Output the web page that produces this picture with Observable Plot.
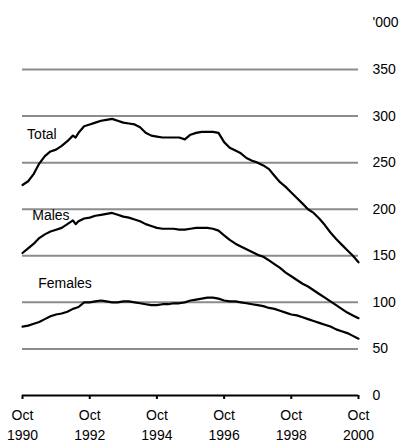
<!DOCTYPE html>
<html>
<head>
<meta charset="utf-8">
<script src="https://cdn.jsdelivr.net/npm/d3@7"></script>
<script src="https://cdn.jsdelivr.net/npm/@observablehq/plot@0.6"></script>
<style>
  html, body { margin: 0; padding: 0; background: white; }
</style>
</head>
<body>
<div id="chart"></div>
<script>
// Monthly readings (every other month) from Oct 1990 to Oct 2000, thousands
const months = ["1990-10","1990-12","1991-02","1991-04","1991-06","1991-08","1991-10","1991-12","1992-02","1992-04","1992-05","1992-06","1992-08","1992-10","1992-12","1993-02","1993-04","1993-06","1993-08","1993-10","1993-12","1994-02","1994-04","1994-06","1994-08","1994-10","1994-12","1995-02","1995-04","1995-06","1995-08","1995-10","1995-12","1996-02","1996-04","1996-06","1996-08","1996-10","1996-12","1997-02","1997-04","1997-06","1997-08","1997-10","1997-12","1998-02","1998-04","1998-06","1998-08","1998-10","1998-12","1999-02","1999-04","1999-06","1999-08","1999-10","1999-12","2000-02","2000-04","2000-06","2000-08","2000-10"];
const total = [226,230,238,249,257,262,264,268,273,279,277,282,289,291,293,295,296,297,295,293,292,291,288,282,279,278,277,277,277,277,275,280,282,283,283,283,282,272,266,263,260,255,252,250,247,243,236,229,224,218,212,206,200,196,190,183,175,168,162,156,150,143];
const males = [153,158,163,169,173,176,178,180,184,188,184,187,190,191,193,194,195,196,194,192,191,189,187,184,182,180,179,179,179,178,178,179,180,180,180,179,177,172,167,163,160,157,154,151,149,145,141,137,132,128,124,120,117,113,109,105,101,97,93,89,86,83];
const females = [74,75,77,79,82,85,87,88,90,93,94,95,100,100,101,102,101,100,100,101,101,100,99,98,97,97,98,98,99,99,100,102,103,104,105,105,104,102,101,101,100,99,98,97,96,94,93,91,89,87,86,84,82,80,78,76,74,71,69,67,64,61];

const seriesNames = ["Total", "Males", "Females"];
const labelDates = ["1990-11-20", "1991-01-15", "1991-03-20"];
const labelValues = [280, 193, 120];

const yTicks = [0, 50, 100, 150, 200, 250, 300, 350];
const gridValues = [50, 100, 150, 200, 250, 300, 350];
const xTickDates = ["1990-10", "1992-10", "1994-10", "1996-10", "1998-10", "2000-10"];
const xTickMonth = "Oct";
const unitLabel = "'000";
const unitValue = 400;

const seriesValues = [total, males, females];
const rows = [];
seriesNames.forEach((name, i) => {
  months.forEach((m, j) => rows.push({series: name, date: new Date(m), value: seriesValues[i][j]}));
});
const labels = seriesNames.map((name, i) => ({name, date: new Date(labelDates[i]), value: labelValues[i]}));
const xTicks = xTickDates.map(d => new Date(d));

const font = "Arial, 'Liberation Sans', Helvetica, sans-serif";

const chart = Plot.plot({
  width: 405,
  height: 448,
  marginLeft: 22,
  marginRight: 47,
  marginTop: 69,
  marginBottom: 53,
  x: {type: "utc", domain: [xTicks[0], xTicks[xTicks.length - 1]]},
  y: {domain: [0, 350]},
  style: {fontFamily: font, fontSize: "14px", color: "black", background: "white"},
  marks: [
    Plot.ruleY(gridValues, {stroke: "#8c8c8c", strokeWidth: 2}),
    Plot.axisY({anchor: "right", ticks: yTicks, tickSize: 0, tickPadding: 14, label: null, fontSize: 14, tickFormat: d => String(d)}),
    Plot.text([unitLabel], {x: () => xTicks[xTicks.length - 1], y: () => unitValue, text: d => d, dx: 14, textAnchor: "start", fontSize: 14}),
    Plot.ruleY([0], {stroke: "black", strokeWidth: 2}),
    Plot.axisX({ticks: xTicks, tickSize: 4, tickFormat: () => "", label: null, strokeWidth: 2}),
    Plot.text(xTicks, {x: d => d, text: () => xTickMonth, frameAnchor: "bottom", dy: 24, fontSize: 14}),
    Plot.text(xTicks, {x: d => d, text: d => String(d.getUTCFullYear()), frameAnchor: "bottom", dy: 44, fontSize: 14}),
    Plot.line(rows, {x: "date", y: "value", z: "series", stroke: "black", strokeWidth: 2.2, curve: "linear"}),
    Plot.text(labels, {x: "date", y: "value", text: "name", textAnchor: "start", fontSize: 14})
  ]
});
document.getElementById("chart").appendChild(chart);
</script>
</body>
</html>
